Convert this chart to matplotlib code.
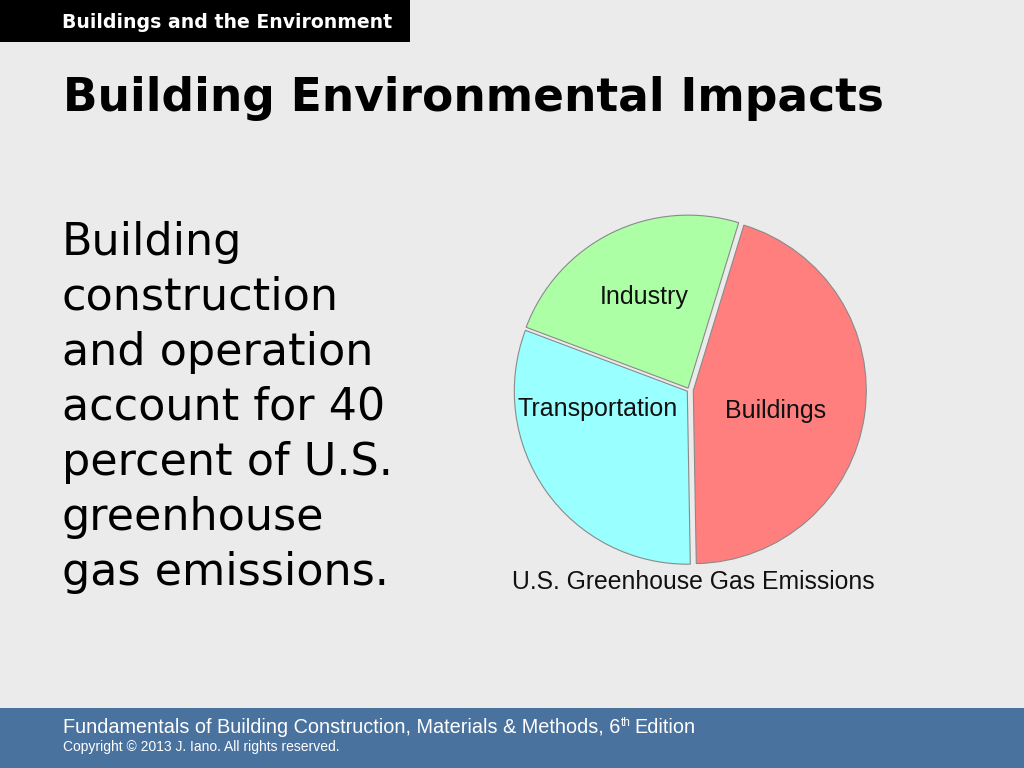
import matplotlib
matplotlib.use("Agg")
import matplotlib.pyplot as plt
from matplotlib.patches import Rectangle

# chart data
sectors = ["Buildings", "Transportation", "Industry"]
shares = [45, 31, 24]
colors = ["#ff7f7f", "#99ffff", "#adffa6"]
explode = [0.025, 0.012, 0.012]

body_lines = ["Building", "construction", "and operation", "account for 40",
              "percent of U.S.", "greenhouse", "gas emissions."]

W, H = 1024, 768
fig = plt.figure(figsize=(W / 100, H / 100), dpi=100, facecolor="#ebebeb")


def px(x, y):
    return x / W, 1 - y / H


def fit(t, width):
    # scale a text so it spans the given pixel width
    r = fig.canvas.get_renderer()
    w = t.get_window_extent(r).width
    t.set_fontsize(t.get_fontsize() * width / w)


# header box
fig.patches.append(Rectangle(px(0, 42), 410 / W, 42 / H, transform=fig.transFigure,
                             facecolor="black", edgecolor="none"))
t = fig.text(*px(62, 28), "Buildings and the Environment", color="white",
             fontsize=14, fontweight="bold", family="DejaVu Sans", va="baseline")
fit(t, 331)

# title
t = fig.text(*px(63, 111), "Building Environmental Impacts", color="black",
             fontsize=34, fontweight="bold", family="DejaVu Sans", va="baseline")
fit(t, 822)

# body text
for i, line in enumerate(body_lines):
    fig.text(*px(62, 255 + 55 * i), line, fontsize=32, family="DejaVu Sans",
             va="baseline", color="black")

# footer bar
fig.patches.append(Rectangle((0, 0), 1, 60 / H, transform=fig.transFigure,
                             facecolor="#4a729f", edgecolor="none"))
t1 = fig.text(*px(63, 733), "Fundamentals of Building Construction, Materials & Methods, 6",
              color="white", fontsize=14.3, family="Liberation Sans", va="baseline")
fig.canvas.draw()
bb = t1.get_window_extent(fig.canvas.get_renderer())
t2 = fig.text(bb.x1 / W, px(0, 726)[1], "th", color="white", fontsize=8.5,
              family="Liberation Sans", va="baseline")
bb2 = t2.get_window_extent(fig.canvas.get_renderer())
fig.text(bb2.x1 / W + 4 / W, px(0, 733)[1], "Edition", color="white", fontsize=14.3,
         family="Liberation Sans", va="baseline")
fig.text(*px(63, 751), "Copyright \u00a9 2013 J. Iano. All rights reserved.",
         color="white", fontsize=10, family="Liberation Sans", va="baseline")

# pie
cx, cy, rad = 689, 390, 173
span = 2.2 * rad
ax = fig.add_axes([(cx - span / 2) / W, (H - cy - span / 2) / H, span / W, span / H])
ax.pie(shares, colors=colors, explode=explode, startangle=73, counterclock=False,
       wedgeprops=dict(edgecolor="#8a8a8a", linewidth=0.8))
ax.set_xlim(-1.1, 1.1)
ax.set_ylim(-1.1, 1.1)
ax.set_aspect("equal")
ax.axis("off")

label_pos = [(0.50, -0.12), (-0.53, -0.11), (-0.26, 0.54)]
for name, (lx, ly) in zip(sectors, label_pos):
    ax.text(lx, ly, name, ha="center", va="center", fontsize=18,
            family="Liberation Sans", color="#111111")

fig.text(*px(693, 582), "U.S. Greenhouse Gas Emissions", ha="center", va="center",
         fontsize=17.8, family="Liberation Sans", color="#111111")

fig.savefig("out.png", dpi=100, facecolor=fig.get_facecolor())
